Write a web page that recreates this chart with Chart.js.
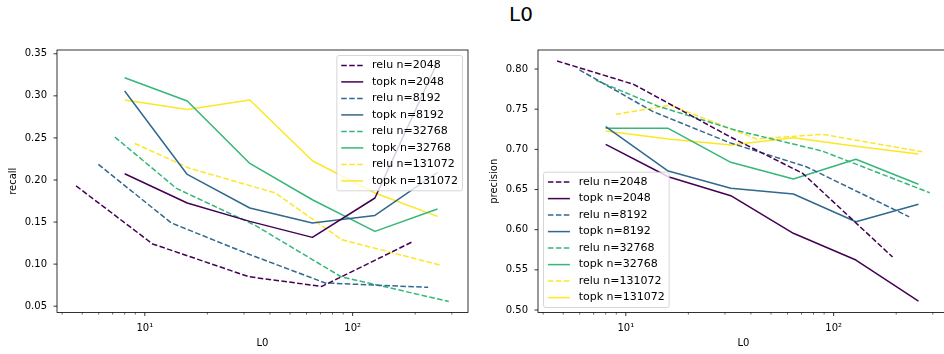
<!DOCTYPE html>
<html>
<head>
<meta charset="utf-8">
<script src="https://cdn.jsdelivr.net/npm/chart.js@4/dist/chart.umd.min.js"></script>
<style>
  html, body { margin: 0; padding: 0; width: 944px; height: 354px; overflow: hidden; background: #fff; }
  #title { position: absolute; left: 0; top: 2px; width: 1042px; text-align: center; font: 20px "DejaVu Sans"; color: #000; }
  canvas { position: absolute; top: 0; }
</style>
</head>
<body>
<div id="title">L0</div>
<canvas id="recallChart" width="480" height="354" style="left:0"></canvas>
<canvas id="precisionChart" width="480" height="354" style="left:481px"></canvas>
<script>
// dictionary sizes, one colour each (viridis)
const widths = [2048, 8192, 32768, 131072];
const colors = ['#440154', '#31688e', '#35b779', '#fde725'];

// topk runs sit at fixed k, relu runs at their measured L0
const topkL0 = [8, 16, 32, 64, 128, 256];
const reluL0 = [
  [4.67, 10.9, 31.7, 71.1, 192],
  [5.98, 13.4, 31.5, 73.8, 231],
  [7.18, 14.2, 34, 88, 290],
  [8.95, 16.4, 42.5, 88.7, 267]
];

const reluRecall = [
  [0.193, 0.124, 0.085, 0.0735, 0.126],
  [0.2185, 0.149, 0.112, 0.0776, 0.0724],
  [0.251, 0.190, 0.146, 0.085, 0.0557],
  [0.2434, 0.214, 0.1845, 0.129, 0.0985]
];
const topkRecall = [
  [0.2074, 0.1726, 0.1508, 0.1318, 0.1786, 0.340],
  [0.3057, 0.2066, 0.1667, 0.1489, 0.1579, 0.209],
  [0.3215, 0.2938, 0.2197, 0.1765, 0.1389, 0.1655],
  [0.295, 0.2838, 0.295, 0.2229, 0.1845, 0.1567]
];

const reluPrecision = [
  [0.810, 0.781, 0.7157, 0.670, 0.566],
  [0.799, 0.7475, 0.7084, 0.6784, 0.616],
  [0.786, 0.754, 0.7236, 0.698, 0.646],
  [0.7436, 0.755, 0.713, 0.7187, 0.697]
];
const topkPrecision = [
  [0.7063, 0.6659, 0.6423, 0.5955, 0.5622, 0.5112],
  [0.7282, 0.673, 0.6515, 0.6444, 0.6099, 0.6316],
  [0.7262, 0.7262, 0.6839, 0.6631, 0.6876, 0.6565],
  [0.7228, 0.7129, 0.7054, 0.7145, 0.7040, 0.6942]
];

// log axis ticks
const xMajorTicks = [10, 100];
const xMajorLabels = ['10¹', '10²'];
const xMinorTicks = [4, 5, 6, 7, 8, 9, 20, 30, 40, 50, 60, 70, 80, 90, 200, 300];

Chart.defaults.font.family = '"DejaVu Sans"';
Chart.defaults.font.size = 10;
Chart.defaults.color = '#000';

// spines and tick marks, drawn over the lines
const axesFrame = {
  id: 'axesFrame',
  afterDatasetsDraw(chart) {
    const { ctx, chartArea: a, scales: { x, y } } = chart;
    ctx.save();
    ctx.strokeStyle = '#000';
    ctx.lineWidth = 0.8;
    y.ticks.forEach(t => {
      const py = y.getPixelForValue(t.value);
      ctx.beginPath();
      ctx.moveTo(a.left - 3.5, py);
      ctx.lineTo(a.left, py);
      ctx.stroke();
    });
    x.ticks.forEach(t => {
      const px = x.getPixelForValue(t.value);
      ctx.lineWidth = t.major ? 0.8 : 0.6;
      ctx.beginPath();
      ctx.moveTo(px, a.bottom);
      ctx.lineTo(px, a.bottom + (t.major ? 3.5 : 2));
      ctx.stroke();
    });
    ctx.lineWidth = 0.8;
    ctx.strokeRect(a.left, a.top, a.right - a.left, a.bottom - a.top);
    ctx.restore();
  }
};

// framed legend inside the axes
const boxLegend = {
  id: 'boxLegend',
  afterDraw(chart, args, opts) {
    const { ctx, chartArea: a } = chart;
    const sets = chart.data.datasets;
    const fs = 11, pad = 4.4, handle = 22, gap = 8.8, row = 16.5;
    ctx.save();
    ctx.font = fs + 'px "DejaVu Sans"';
    const textW = Math.max(...sets.map(d => ctx.measureText(d.label).width));
    const w = pad + handle + gap + textW + pad;
    const h = sets.length * fs + (sets.length - 1) * fs * 0.5 + 2 * pad;
    const bx = opts.corner === 'upper right' ? a.right - 5.5 - w : a.left + 5.5;
    const by = opts.corner === 'upper right' ? a.top + 5.5 : a.bottom - 5 - h;
    ctx.beginPath();
    ctx.roundRect(bx, by, w, h, 2.2);
    ctx.fillStyle = 'rgba(255,255,255,0.8)';
    ctx.fill();
    ctx.strokeStyle = 'rgba(204,204,204,0.8)';
    ctx.lineWidth = 1;
    ctx.stroke();
    sets.forEach((d, i) => {
      const cy = by + pad + fs / 2 + i * row;
      ctx.beginPath();
      ctx.setLineDash(d.borderDash || []);
      ctx.strokeStyle = d.borderColor;
      ctx.lineWidth = 1.5;
      ctx.moveTo(bx + pad, cy);
      ctx.lineTo(bx + pad + handle, cy);
      ctx.stroke();
      ctx.setLineDash([]);
      ctx.fillStyle = '#000';
      ctx.textBaseline = 'middle';
      ctx.fillText(d.label, bx + pad + handle + gap, cy);
    });
    ctx.restore();
  }
};

function buildDatasets(relu, topk) {
  const out = [];
  widths.forEach((n, i) => {
    out.push({
      label: 'relu n=' + n,
      data: reluL0[i].map((x, j) => ({ x, y: relu[i][j] })),
      borderColor: colors[i],
      borderDash: [5.55, 2.4]
    });
    out.push({
      label: 'topk n=' + n,
      data: topkL0.map((x, j) => ({ x, y: topk[i][j] })),
      borderColor: colors[i]
    });
  });
  return out;
}

function makeChart(id, datasets, yLabel, yMin, yMax, corner) {
  return new Chart(document.getElementById(id), {
    type: 'line',
    data: { datasets },
    options: {
      responsive: false,
      animation: false,
      layout: { padding: { top: 50, right: 12, left: 0, bottom: 0 } },
      elements: {
        point: { radius: 0 },
        line: { borderWidth: 1.5, tension: 0, borderJoinStyle: 'round', fill: false }
      },
      plugins: {
        legend: { display: false },
        tooltip: { enabled: false },
        boxLegend: { corner }
      },
      scales: {
        x: {
          type: 'logarithmic',
          min: 3.78,
          max: 359,
          afterBuildTicks: s => {
            s.ticks = xMinorTicks.map(v => ({ value: v, major: false }))
              .concat(xMajorTicks.map(v => ({ value: v, major: true })))
              .sort((p, q) => p.value - q.value);
          },
          afterFit: s => { s.height = 41.5; },
          grid: { display: false, drawTicks: false },
          border: { display: false },
          ticks: {
            autoSkip: false,
            maxRotation: 0,
            padding: 10,
            callback: v => {
              const k = xMajorTicks.indexOf(v);
              return k >= 0 ? xMajorLabels[k] : '';
            }
          },
          title: { display: true, text: 'L0', padding: { top: 0, bottom: 5 } }
        },
        y: {
          type: 'linear',
          min: yMin,
          max: yMax,
          afterFit: s => { s.width = 57; },
          grid: { display: false, drawTicks: false },
          border: { display: false },
          ticks: {
            stepSize: 0.05,
            includeBounds: false,
            padding: 10,
            callback: v => v.toFixed(2)
          },
          title: { display: true, text: yLabel, padding: { top: 7, bottom: 0 } }
        }
      }
    },
    plugins: [axesFrame, boxLegend]
  });
}

makeChart('recallChart', buildDatasets(reluRecall, topkRecall), 'recall', 0.0425, 0.3545, 'upper right');
makeChart('precisionChart', buildDatasets(reluPrecision, topkPrecision), 'precision', 0.4969, 0.8237, 'lower left');
</script>
</body>
</html>
